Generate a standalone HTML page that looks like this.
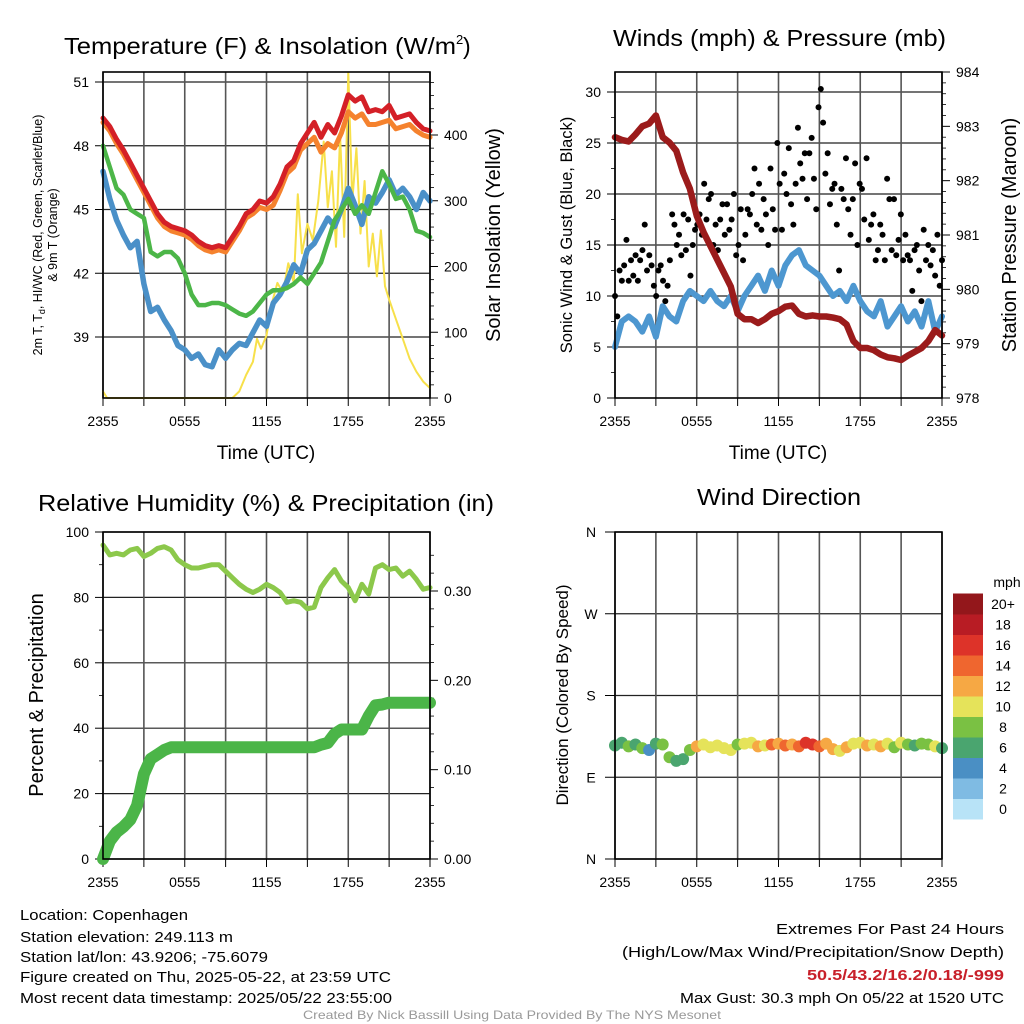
<!DOCTYPE html>
<html><head><meta charset="utf-8"><style>
html,body{margin:0;padding:0;background:#fff;width:1024px;height:1024px;overflow:hidden}
svg{display:block;font-family:"Liberation Sans",sans-serif}
</style></head><body>
<svg id="chart" width="1024" height="1024" viewBox="0 0 1024 1024" xmlns="http://www.w3.org/2000/svg">
<g id="static">
<text x="64" y="54" font-size="23" textLength="392" lengthAdjust="spacingAndGlyphs">Temperature (F) &amp; Insolation (W/m</text>
<text x="456" y="44" font-size="13">2</text>
<text x="463" y="54" font-size="23">)</text>
<text x="613" y="46" font-size="23" textLength="333" lengthAdjust="spacingAndGlyphs">Winds (mph) &amp; Pressure (mb)</text>
<text x="38" y="511" font-size="23" textLength="456" lengthAdjust="spacingAndGlyphs">Relative Humidity (%) &amp; Precipitation (in)</text>
<text x="697" y="505" font-size="23" textLength="164" lengthAdjust="spacingAndGlyphs">Wind Direction</text>
<text x="266" y="459" font-size="19" text-anchor="middle">Time (UTC)</text>
<text x="778" y="459" font-size="19" text-anchor="middle">Time (UTC)</text>
<text transform="translate(42,235) rotate(-90)" font-size="12.5" text-anchor="middle">2m T, T<tspan font-size="9" dy="3">d</tspan><tspan dy="-3">, HI/WC (Red, Green, Scarlet/Blue)</tspan></text>
<text transform="translate(57,235) rotate(-90)" font-size="12.5" text-anchor="middle">&amp; 9m T (Orange)</text>
<text transform="translate(500,235) rotate(-90)" font-size="20" text-anchor="middle">Solar Insolation (Yellow)</text>
<text transform="translate(572,235) rotate(-90)" font-size="16.5" text-anchor="middle">Sonic Wind &amp; Gust (Blue, Black)</text>
<text transform="translate(1016,235) rotate(-90)" font-size="20" text-anchor="middle">Station Pressure (Maroon)</text>
<text transform="translate(43,695) rotate(-90)" font-size="20" text-anchor="middle">Percent &amp; Precipitation</text>
<text transform="translate(568,695) rotate(-90)" font-size="17" text-anchor="middle">Direction (Colored By Speed)</text>
<text x="20" y="920" font-size="14.5" textLength="168" lengthAdjust="spacingAndGlyphs">Location: Copenhagen</text>
<text x="20" y="942" font-size="14.5" textLength="213" lengthAdjust="spacingAndGlyphs">Station elevation: 249.113 m</text>
<text x="20" y="962" font-size="14.5" textLength="248" lengthAdjust="spacingAndGlyphs">Station lat/lon: 43.9206; -75.6079</text>
<text x="20" y="982" font-size="14.5" textLength="371" lengthAdjust="spacingAndGlyphs">Figure created on Thu, 2025-05-22, at 23:59 UTC</text>
<text x="20" y="1003" font-size="14.5" textLength="372" lengthAdjust="spacingAndGlyphs">Most recent data timestamp: 2025/05/22 23:55:00</text>
<text x="1004" y="934" font-size="15" text-anchor="end" textLength="228" lengthAdjust="spacingAndGlyphs">Extremes For Past 24 Hours</text>
<text x="1004" y="957" font-size="15" text-anchor="end" textLength="382" lengthAdjust="spacingAndGlyphs">(High/Low/Max Wind/Precipitation/Snow Depth)</text>
<text x="1004" y="980" font-size="15" font-weight="bold" fill="#c8202a" text-anchor="end" textLength="197" lengthAdjust="spacingAndGlyphs">50.5/43.2/16.2/0.18/-999</text>
<text x="1004" y="1003" font-size="15" text-anchor="end" textLength="324" lengthAdjust="spacingAndGlyphs">Max Gust: 30.3 mph On 05/22 at 1520 UTC</text>
<text x="512" y="1019" font-size="12" fill="#999" text-anchor="middle" textLength="418" lengthAdjust="spacingAndGlyphs">Created By Nick Bassill Using Data Provided By The NYS Mesonet</text>
</g>
</svg>
<script>
// ---------- data ----------
const hours = [0,0.5,1,1.5,2,2.5,3,3.5,4,4.5,5,5.5,6,6.5,7,7.5,8,8.5,9,9.5,10,10.5,11,11.5,12,12.5,13,13.5,14,14.5,15,15.5,16,16.5,17,17.5,18,18.5,19,19.5,20,20.5,21,21.5,22,22.5,23,23.5,24];
const xTickLabels = ["2355","0555","1155","1755","2355"];
const tempRed = [49.3,48.9,48.3,47.8,47.2,46.6,46.0,45.4,44.8,44.4,44.2,44.1,44.0,43.8,43.5,43.3,43.2,43.3,43.2,43.7,44.2,44.8,45.0,45.4,45.3,45.6,46.2,47.0,47.3,48.1,48.6,49.1,48.4,49.0,48.6,49.4,50.4,50.1,50.3,49.6,49.7,49.6,49.9,49.3,49.4,49.5,49.1,48.8,48.7];
const tempOrange = [49.1,48.7,48.1,47.6,47.0,46.4,45.8,45.2,44.6,44.2,44.0,43.9,43.8,43.6,43.3,43.1,43.0,43.1,43.0,43.5,44.0,44.6,44.8,45.1,45.0,45.2,45.9,46.7,47.0,47.8,48.1,48.4,47.7,48.1,47.9,48.6,49.6,49.3,49.5,49.0,49.0,49.1,49.2,48.8,48.9,49.0,48.7,48.5,48.4];
const tempGreen = [48.0,47.0,46.0,45.7,45.0,44.8,44.6,43.0,42.8,43.0,43.0,42.7,42.0,41.0,40.5,40.5,40.6,40.6,40.5,40.3,40.1,40.0,40.2,40.6,41.0,41.2,41.2,41.3,41.5,41.8,41.5,42.0,42.5,43.5,44.5,45.0,45.5,44.8,45.2,44.8,45.8,46.8,46.2,45.5,45.6,45.0,44.0,43.9,43.7];
const tempBlue = [46.8,45.5,44.5,43.8,43.2,43.5,41.5,40.2,40.4,39.8,39.3,38.6,38.4,38.0,38.2,37.7,37.6,38.4,38.0,38.4,38.7,38.6,39.2,39.8,39.5,40.6,41.0,41.6,42.4,42.0,43.1,43.4,44.0,44.6,44.2,45.0,46.0,45.2,44.3,45.6,45.3,45.8,46.4,45.7,46.0,45.6,45.0,45.8,45.4];
const solarHours = [0,0.3,1,9.5,10,10.5,11,11.3,11.6,12,12.4,12.8,13.2,13.6,14,14.3,14.6,15,15.4,15.8,16.2,16.5,16.8,17.1,17.4,17.7,18,18.3,18.6,18.9,19.2,19.5,19.8,20.1,20.4,20.7,21,21.5,22,22.5,23,23.5,24];
const solarValues = [10,0,0,0,10,35,55,90,75,95,145,175,160,205,175,310,220,265,240,300,390,290,345,230,400,245,495,300,380,250,330,200,250,185,255,170,150,120,90,60,40,25,15];
const windSpeed = [5,7.5,8,7.5,6.5,8,6,9,8,7.5,9.5,10.5,10,9.5,10.5,9.5,9,10,8.5,10,11,12,10.5,12.5,11,13,14,14.5,13,12.5,12,11,10,10.5,9.5,11,9.5,8.5,8,9.5,7,8,9,7.5,8.5,7,9.5,6.5,8];
const gustValues = [10,8,12.5,11.5,13,15.5,11.5,13.5,12,14,11.5,13.5,14.5,17,12.5,14,13,11,10,12.5,13,11.5,9.5,11,13.5,18,17,15,16,14,18,14.5,17.5,12,15,16.5,17,18,16,21,17.5,19.5,20,15,17,14.5,17.5,19,16,19,16.5,17.5,20,14,15,18.5,13.5,16,18.5,18,20,22.5,17,21,16.5,19.5,18,15,22.5,18.5,16.5,25,21,16.5,22,20,24.5,19,17,21,26.5,23,21.5,24,19.5,24,25.5,21.5,18.5,28.5,30.3,27,22,24,19,20.5,21,17,12.5,20.5,19.5,23.5,18.5,16,19.5,23,15,21,20.5,17.5,23.5,15.5,17,18,13.5,14.5,17,16,13.5,21.5,19.5,14.5,19.5,14,15.5,18,13.5,16,14,13.5,10.5,14.5,15,12.5,9.5,16.5,13.5,15,13,14.5,12,16,11,13.5];
const pressure = [982.8,982.75,982.72,982.85,983.0,983.05,983.2,982.8,982.7,982.55,982.15,981.85,981.35,981.05,980.8,980.55,980.3,980.05,979.55,979.45,979.45,979.38,979.45,979.55,979.6,979.68,979.7,979.55,979.5,979.52,979.5,979.5,979.48,979.45,979.35,979.05,978.92,978.92,978.88,978.8,978.75,978.73,978.7,978.78,978.85,978.92,979.05,979.25,979.15];
const humidity = [96,93,93.5,93,94.5,95,92.5,93.5,95,95.5,94.5,91.5,90,89,89,89.5,90,90,88,86,84,82.5,81.5,82.5,84,83,81.5,78.5,79,78.5,76.5,77,83,86,88.5,85,83,79,84,81,89,90,88.5,89,86.5,88,85.5,82.5,83];
const precip = [0,0.02,0.03,0.036,0.044,0.06,0.095,0.112,0.117,0.122,0.125,0.125,0.125,0.125,0.125,0.125,0.125,0.125,0.125,0.125,0.125,0.125,0.125,0.125,0.125,0.125,0.125,0.125,0.125,0.125,0.125,0.125,0.128,0.13,0.14,0.145,0.145,0.145,0.145,0.16,0.172,0.173,0.175,0.175,0.175,0.175,0.175,0.175,0.175];
const windDir = [125,128,124,126,122,120,127,126,112,108,110,120,124,126,123,125,122,120,126,127,128,124,125,126,127,125,126,124,128,126,124,127,121,119,123,127,128,125,126,124,127,123,128,126,125,127,126,124,122];
const dirSpeed = [7,7.5,8,7,9,5,6,9,8,7,6.5,9.5,12,10,10.5,11,10,10.5,9,10,11,12.5,11.5,14,13,14.5,12.5,15,16,17,15,13,12.5,10.5,12,10,11,12.5,10.5,12,10.5,9,10,8.5,7.5,9,8,10.5,7];
const colorbarLabels = ["0","2","4","6","8","10","12","14","16","18","20+"];
const colorbarColors = ["#b8e3f7","#7fbbe3","#4a8fc4","#4aa56f","#7ac143","#e5e35a","#f6a844","#ef662f","#dd3329","#b81c24","#93171b"];

// ---------- helpers ----------
const NS="http://www.w3.org/2000/svg";
const svg=document.getElementById('chart');
function mk(tag, parent){const e=document.createElementNS(NS,tag);(parent||svg).appendChild(e);return e;}
function lin(d0,d1,r0,r1){return v=>r0+(v-d0)*(r1-r0)/(d1-d0);}
function setA(e,o){for(const k in o)e.setAttribute(k,o[k]);return e;}

function panelFrame(g,x0,x1,y0,y1,xs,hLines){
  hLines.forEach(y=>{const l=mk('line',g);setA(l,{x1:x0,x2:x1,y1:y,y2:y,stroke:'#222','stroke-width':1.2});
    
    });
  for(let i=0;i<=8;i++){const x=xs(i*3);const l=mk('line',g);setA(l,{x1:x,x2:x,y1:y0,y2:y1,stroke:'#555','stroke-width':1.6});
    
    
    const t=mk('line',g);setA(t,{x1:x,x2:x,y1:y1,y2:y1+8,stroke:'#000','stroke-width':1});
    
    }
  xTickLabels.forEach((lab,i)=>{const t=mk('text',g);setA(t,{x:xs(i*6),y:y1+28,'font-size':14,'text-anchor':'middle'});t.textContent=lab;
    
    });
}
function frameBox(g,x0,x1,y0,y1){const r=mk('rect',g);setA(r,{x:x0,y:y0,width:x1-x0,height:y1-y0,fill:'none',stroke:'#000','stroke-width':1.6});
  
  }
function yTicks(g,vals,ys,xAxis,side,fmt,name){vals.forEach(v=>{const y=ys(v);const t=mk('line',g);
  setA(t,{x1:xAxis,x2:xAxis+(side<0?-8:8),y1:y,y2:y,stroke:'#000','stroke-width':1});
  
  
  const tx=mk('text',g);setA(tx,{x:xAxis+(side<0?-14:14),y:y+5,'font-size':14,'text-anchor':side<0?'end':'start'});tx.textContent=fmt(v);
  
  });}
function minorTicks(g,vals,ys,xAxis,side){vals.forEach(v=>{const y=ys(v);const t=mk('line',g);
  setA(t,{x1:xAxis,x2:xAxis+(side<0?-4:4),y1:y,y2:y,stroke:'#000','stroke-width':0.8});
  
  });}
function line(g,xsArr,ysArr,xs,ys,color,w,name){const p=mk('polyline',g);
  setA(p,{points:xsArr.map((t,i)=>xs(t).toFixed(1)+','+ys(ysArr[i]).toFixed(1)).join(' '),fill:'none',stroke:color,'stroke-width':w,'stroke-linejoin':'round','stroke-linecap':'round'});
  
  return p;}

// ---------- panel 1: temperature ----------
{const g=mk('g');
 const X0=103,X1=430,Y0=72,Y1=398;
 const xs=lin(0,24,X0,X1), ys=lin(39,51,337,82), ysR=lin(0,400,398,135);
 panelFrame(g,X0,X1,Y0,Y1,xs,[39,42,45,48,51].map(ys));
 yTicks(g,[39,42,45,48,51],ys,X0,-1,v=>String(v),'temp-y');
 yTicks(g,[0,100,200,300,400],ysR,X1,1,v=>String(v),'insolation-y');
 minorTicks(g,[20,40,60,80,120,140,160,180,220,240,260,280,320,340,360,380,420,440,460,480],ysR,X1,1);
 line(g,solarHours,solarValues,xs,ysR,'#f7e04a',2,'insolation-line');
 line(g,hours,tempBlue,xs,ys,'#4a90c8',5.5,'temp-blue-line');
 line(g,hours,tempGreen,xs,ys,'#4cb648',4.5,'temp-green-line');
 line(g,hours,tempOrange,xs,ys,'#f5822e',5,'temp-orange-line');
 line(g,hours,tempRed,xs,ys,'#d42027',5,'temp-red-line');
 frameBox(g,X0,X1,Y0,Y1);}

// ---------- panel 2: winds ----------
{const g=mk('g');
 const X0=615,X1=942,Y0=72,Y1=398;
 const xs=lin(0,24,X0,X1), ys=lin(0,30,398,92), ysR=lin(978,984,398,72);
 panelFrame(g,X0,X1,Y0,Y1,xs,[5,10,15,20,25,30].map(ys));
 yTicks(g,[0,5,10,15,20,25,30],ys,X0,-1,v=>String(v),'wind-y');
 yTicks(g,[978,979,980,981,982,983,984],ysR,X1,1,v=>String(v),'pressure-y');
 minorTicks(g,[978.2,978.4,978.6,978.8,979.2,979.4,979.6,979.8,980.2,980.4,980.6,980.8,981.2,981.4,981.6,981.8,982.2,982.4,982.6,982.8,983.2,983.4,983.6,983.8],ysR,X1,1);
 minorTicks(g,[2.5,7.5,12.5,17.5,22.5,27.5],ys,X0,-1);
 line(g,hours,windSpeed,xs,ys,'#4d97d0',6,'wind-speed-line');
 gustValues.forEach((v,i)=>{const c=mk('circle',g);setA(c,{cx:xs(i*24/143),cy:ys(v),r:3,fill:'#000'});
   
   });
 line(g,hours,pressure,xs,ysR,'#9b1b1b',6.5,'pressure-line');
 frameBox(g,X0,X1,Y0,Y1);}

// ---------- panel 3: humidity / precip ----------
{const g=mk('g');
 const X0=103,X1=430,Y0=532,Y1=859;
 const xs=lin(0,24,X0,X1), ys=lin(0,100,859,532), ysR=lin(0,0.3,859,591);
 panelFrame(g,X0,X1,Y0,Y1,xs,[0,20,40,60,80,100].map(ys));
 yTicks(g,[0,20,40,60,80,100],ys,X0,-1,v=>String(v),'humidity-y');
 yTicks(g,[0,0.1,0.2,0.3],ysR,X1,1,v=>v.toFixed(2),'precip-y');
 minorTicks(g,[10,30,50,70,90],ys,X0,-1);
 minorTicks(g,[0.02,0.04,0.06,0.08,0.12,0.14,0.16,0.18,0.22,0.24,0.26,0.28,0.32,0.34],ysR,X1,1);
 line(g,hours,humidity,xs,ys,'#8cc84b',5,'humidity-line');
 line(g,hours,precip,xs,ysR,'#4bb548',12,'precipitation-line');
 frameBox(g,X0,X1,Y0,Y1);}

// ---------- panel 4: wind direction ----------
{const g=mk('g');
 const X0=615,X1=942,Y0=532,Y1=859;
 const xs=lin(0,24,X0,X1), ys=lin(0,360,859,532);
 panelFrame(g,X0,X1,Y0,Y1,xs,[0,90,180,270,360].map(ys));
 const dl=["N","E","S","W","N"];
 [0,90,180,270,360].forEach((v,i)=>{const y=ys(v);const t=mk('line',g);setA(t,{x1:X0,x2:X0-10,y1:y,y2:y,stroke:'#000','stroke-width':1});
   
   
   const tx=mk('text',g);setA(tx,{x:591,y:y+5,'font-size':14,'text-anchor':'middle'});tx.textContent=dl[i];
   
   });
 const colorFor=s=>colorbarColors[Math.min(10,Math.floor(s/2))];
 windDir.forEach((d,i)=>{const c=mk('circle',g);setA(c,{cx:xs(hours[i]),cy:ys(d),r:6,fill:colorFor(dirSpeed[i])});
   
   });
 const cb=mk('g',g);
 const bx=953,bw=30,by0=819,bh=20.5;
 colorbarColors.forEach((col,i)=>{const r=mk('rect',cb);setA(r,{x:bx,y:by0-(i+1)*bh,width:bw,height:bh+0.5,fill:col});
   
   
   const t=mk('text',cb);setA(t,{x:1003,y:by0-(i+0.5)*bh+5,'font-size':14,'text-anchor':'middle'});t.textContent=colorbarLabels[i];
   
   });
 const u=mk('text',cb);setA(u,{x:1007,y:587,'font-size':14,'text-anchor':'middle'});u.textContent='mph';
 
 
 frameBox(g,X0,X1,Y0,Y1);}
</script>
</body></html>
